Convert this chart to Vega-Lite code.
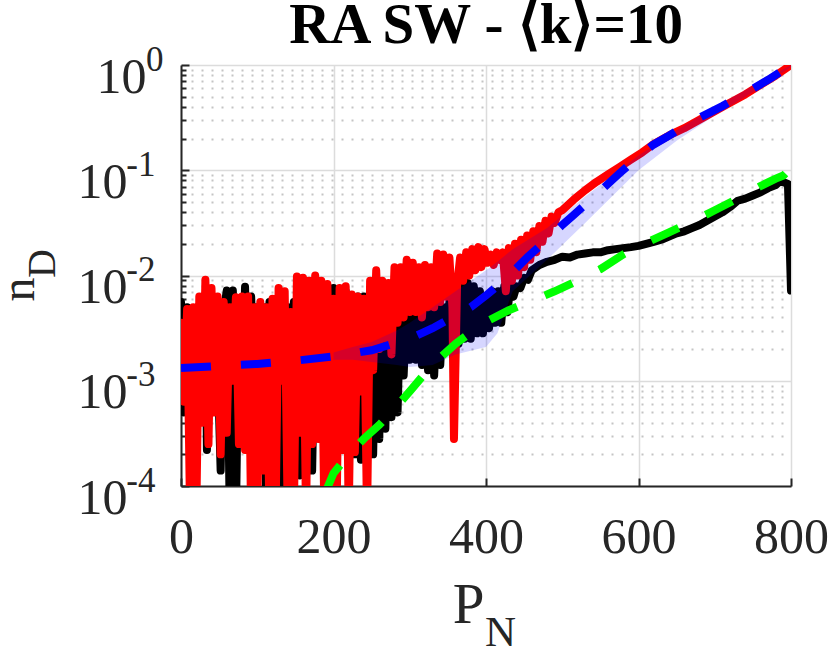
{
  "$schema": "https://vega.github.io/schema/vega-lite/v6.json",
  "background": "white",
  "autosize": {"type": "none"},
  "padding": {"left": 181, "top": 65, "right": 39, "bottom": 168},
  "width": 610,
  "height": 421,
  "title": {
    "text": "RA SW - ⟨k⟩=10",
    "font": "Liberation Serif",
    "fontSize": 57,
    "fontWeight": "bold",
    "color": "#000000",
    "anchor": "middle",
    "frame": "group",
    "offset": 6,
    "dy": 19
  },
  "datasets": {
    "black": [
      {"p": 0, "v": 0.0056}, {"p": 4, "v": 0.0005}, {"p": 8, "v": 0.005}, {"p": 12, "v": 0.001},
      {"p": 16, "v": 0.0045}, {"p": 20, "v": 0.00063}, {"p": 24, "v": 0.005}, {"p": 28, "v": 0.00079},
      {"p": 32, "v": 0.0056}, {"p": 34, "v": 0.00022}, {"p": 38, "v": 0.005}, {"p": 42, "v": 0.00063},
      {"p": 46, "v": 0.005}, {"p": 52, "v": 0.00014}, {"p": 56, "v": 0.0045}, {"p": 60, "v": 0.0072},
      {"p": 64, "v": 0.00005}, {"p": 68, "v": 0.0072}, {"p": 72, "v": 0.00005}, {"p": 76, "v": 0.005},
      {"p": 80, "v": 0.0005}, {"p": 84, "v": 0.0078}, {"p": 88, "v": 0.0004}, {"p": 92, "v": 0.0063},
      {"p": 96, "v": 0.001}, {"p": 100, "v": 0.005}, {"p": 104, "v": 0.0005}, {"p": 108, "v": 0.005},
      {"p": 112, "v": 0.00005}, {"p": 116, "v": 0.0056}, {"p": 120, "v": 0.00063}, {"p": 124, "v": 0.005},
      {"p": 128, "v": 0.00005}, {"p": 132, "v": 0.0063}, {"p": 136, "v": 0.00005}, {"p": 140, "v": 0.005},
      {"p": 144, "v": 0.00063}, {"p": 148, "v": 0.0056}, {"p": 152, "v": 0.0005}, {"p": 156, "v": 0.000126},
      {"p": 160, "v": 0.0063}, {"p": 164, "v": 0.00079}, {"p": 168, "v": 0.0063}, {"p": 172, "v": 0.00014},
      {"p": 176, "v": 0.0056}, {"p": 180, "v": 0.0005}, {"p": 184, "v": 0.0063}, {"p": 188, "v": 0.0005},
      {"p": 192, "v": 0.0063}, {"p": 196, "v": 0.00063}, {"p": 200, "v": 0.0076}, {"p": 204, "v": 0.0004},
      {"p": 208, "v": 0.0074}, {"p": 212, "v": 0.00063}, {"p": 216, "v": 0.0071}, {"p": 220, "v": 0.0005},
      {"p": 224, "v": 0.0063}, {"p": 228, "v": 0.0002}, {"p": 232, "v": 0.0063}, {"p": 236, "v": 0.000178},
      {"p": 240, "v": 0.0063}, {"p": 244, "v": 0.000178}, {"p": 248, "v": 0.0056}, {"p": 252, "v": 0.0002},
      {"p": 256, "v": 0.0063}, {"p": 260, "v": 0.00028}, {"p": 264, "v": 0.0063}, {"p": 268, "v": 0.00035},
      {"p": 272, "v": 0.006}, {"p": 276, "v": 0.00045}, {"p": 280, "v": 0.0063}, {"p": 284, "v": 0.0005},
      {"p": 288, "v": 0.006}, {"p": 292, "v": 0.00112}, {"p": 296, "v": 0.006}, {"p": 300, "v": 0.00158},
      {"p": 304, "v": 0.006}, {"p": 308, "v": 0.00158}, {"p": 312, "v": 0.005}, {"p": 316, "v": 0.00141},
      {"p": 320, "v": 0.005}, {"p": 324, "v": 0.00126}, {"p": 328, "v": 0.005}, {"p": 332, "v": 0.00112},
      {"p": 336, "v": 0.005}, {"p": 340, "v": 0.00141}, {"p": 344, "v": 0.005}, {"p": 348, "v": 0.00224},
      {"p": 352, "v": 0.0056}, {"p": 356, "v": 0.002}, {"p": 360, "v": 0.0063}, {"p": 364, "v": 0.00224},
      {"p": 368, "v": 0.0085}, {"p": 372, "v": 0.0025}, {"p": 376, "v": 0.0085}, {"p": 380, "v": 0.0025},
      {"p": 384, "v": 0.0079}, {"p": 388, "v": 0.00282}, {"p": 392, "v": 0.0071}, {"p": 396, "v": 0.00282},
      {"p": 400, "v": 0.0063}, {"p": 404, "v": 0.00316}, {"p": 408, "v": 0.0071}, {"p": 412, "v": 0.00355},
      {"p": 416, "v": 0.0071}, {"p": 420, "v": 0.00355}, {"p": 424, "v": 0.0079}, {"p": 428, "v": 0.00447},
      {"p": 432, "v": 0.0079}, {"p": 436, "v": 0.0063}, {"p": 440, "v": 0.0079}, {"p": 445, "v": 0.0076},
      {"p": 450, "v": 0.0095}, {"p": 455, "v": 0.0091}, {"p": 460, "v": 0.0112}, {"p": 470, "v": 0.0126},
      {"p": 480, "v": 0.0135}, {"p": 490, "v": 0.0141}, {"p": 500, "v": 0.0151}, {"p": 510, "v": 0.0148},
      {"p": 520, "v": 0.0158}, {"p": 530, "v": 0.0162}, {"p": 540, "v": 0.0166}, {"p": 550, "v": 0.0166},
      {"p": 560, "v": 0.0174}, {"p": 570, "v": 0.0178}, {"p": 580, "v": 0.0182}, {"p": 590, "v": 0.0186},
      {"p": 600, "v": 0.0191}, {"p": 610, "v": 0.02}, {"p": 620, "v": 0.0209}, {"p": 630, "v": 0.0219},
      {"p": 640, "v": 0.0234}, {"p": 650, "v": 0.0251}, {"p": 660, "v": 0.0263}, {"p": 670, "v": 0.0282},
      {"p": 680, "v": 0.0302}, {"p": 690, "v": 0.0331}, {"p": 700, "v": 0.0363}, {"p": 710, "v": 0.0398},
      {"p": 720, "v": 0.0447}, {"p": 730, "v": 0.0513}, {"p": 740, "v": 0.0537}, {"p": 750, "v": 0.0575},
      {"p": 760, "v": 0.0617}, {"p": 770, "v": 0.0676}, {"p": 780, "v": 0.0724}, {"p": 786, "v": 0.0794},
      {"p": 792, "v": 0.0759}, {"p": 796, "v": 0.074}, {"p": 800, "v": 0.0072}
    ],
    "red": [
      {"p": 0, "v": 0.00355}, {"p": 4, "v": 0.00063}, {"p": 8, "v": 0.0048}, {"p": 12, "v": 0.00005},
      {"p": 16, "v": 0.005}, {"p": 20, "v": 0.00005}, {"p": 24, "v": 0.0063}, {"p": 28, "v": 0.0004},
      {"p": 32, "v": 0.0091}, {"p": 36, "v": 0.00025}, {"p": 40, "v": 0.0076}, {"p": 44, "v": 0.0005},
      {"p": 48, "v": 0.0063}, {"p": 52, "v": 0.0002}, {"p": 56, "v": 0.0056}, {"p": 60, "v": 0.00032},
      {"p": 64, "v": 0.005}, {"p": 68, "v": 0.001}, {"p": 72, "v": 0.0062}, {"p": 76, "v": 0.00025},
      {"p": 80, "v": 0.0063}, {"p": 84, "v": 0.00022}, {"p": 88, "v": 0.0063}, {"p": 92, "v": 0.00005},
      {"p": 96, "v": 0.005}, {"p": 100, "v": 0.00005}, {"p": 104, "v": 0.0056}, {"p": 108, "v": 0.00014},
      {"p": 112, "v": 0.005}, {"p": 116, "v": 0.00005}, {"p": 120, "v": 0.006}, {"p": 124, "v": 0.00005},
      {"p": 128, "v": 0.0076}, {"p": 132, "v": 0.001}, {"p": 136, "v": 0.0071}, {"p": 140, "v": 0.00005},
      {"p": 144, "v": 0.0045}, {"p": 148, "v": 0.00005}, {"p": 152, "v": 0.0098}, {"p": 156, "v": 0.00032},
      {"p": 160, "v": 0.0095}, {"p": 164, "v": 0.00005}, {"p": 168, "v": 0.0089}, {"p": 172, "v": 0.00025},
      {"p": 176, "v": 0.01}, {"p": 180, "v": 0.00028}, {"p": 184, "v": 0.0089}, {"p": 188, "v": 0.00005},
      {"p": 192, "v": 0.0083}, {"p": 196, "v": 0.000126}, {"p": 200, "v": 0.006}, {"p": 204, "v": 0.00005},
      {"p": 208, "v": 0.0076}, {"p": 212, "v": 0.00022}, {"p": 216, "v": 0.0079}, {"p": 220, "v": 0.00005},
      {"p": 224, "v": 0.0066}, {"p": 228, "v": 0.00021}, {"p": 232, "v": 0.0063}, {"p": 236, "v": 0.00079},
      {"p": 240, "v": 0.006}, {"p": 244, "v": 0.00005}, {"p": 248, "v": 0.0089}, {"p": 252, "v": 0.00126},
      {"p": 256, "v": 0.0112}, {"p": 260, "v": 0.002}, {"p": 264, "v": 0.0089}, {"p": 268, "v": 0.0025},
      {"p": 272, "v": 0.0085}, {"p": 276, "v": 0.00178}, {"p": 280, "v": 0.012}, {"p": 284, "v": 0.00355},
      {"p": 288, "v": 0.012}, {"p": 292, "v": 0.004}, {"p": 296, "v": 0.0141}, {"p": 300, "v": 0.0045},
      {"p": 304, "v": 0.0132}, {"p": 308, "v": 0.0045}, {"p": 312, "v": 0.012}, {"p": 316, "v": 0.004},
      {"p": 320, "v": 0.0126}, {"p": 324, "v": 0.005}, {"p": 328, "v": 0.012}, {"p": 332, "v": 0.005},
      {"p": 336, "v": 0.0162}, {"p": 340, "v": 0.0056}, {"p": 344, "v": 0.0158}, {"p": 348, "v": 0.0063},
      {"p": 352, "v": 0.0148}, {"p": 356, "v": 0.005}, {"p": 358, "v": 0.00028}, {"p": 362, "v": 0.0079},
      {"p": 366, "v": 0.0148}, {"p": 370, "v": 0.0089}, {"p": 374, "v": 0.0166}, {"p": 378, "v": 0.01},
      {"p": 382, "v": 0.0178}, {"p": 386, "v": 0.0112}, {"p": 390, "v": 0.0186}, {"p": 394, "v": 0.012},
      {"p": 398, "v": 0.0178}, {"p": 402, "v": 0.0132}, {"p": 406, "v": 0.0158}, {"p": 410, "v": 0.0126},
      {"p": 414, "v": 0.0166}, {"p": 418, "v": 0.0141}, {"p": 422, "v": 0.0166}, {"p": 426, "v": 0.0071},
      {"p": 430, "v": 0.0182}, {"p": 434, "v": 0.0089}, {"p": 438, "v": 0.02}, {"p": 442, "v": 0.01},
      {"p": 446, "v": 0.0219}, {"p": 450, "v": 0.012}, {"p": 454, "v": 0.024}, {"p": 458, "v": 0.0141},
      {"p": 462, "v": 0.0263}, {"p": 466, "v": 0.0166}, {"p": 470, "v": 0.0295}, {"p": 474, "v": 0.0209},
      {"p": 478, "v": 0.0331}, {"p": 482, "v": 0.0251}, {"p": 486, "v": 0.0363}, {"p": 490, "v": 0.0316},
      {"p": 495, "v": 0.0398}, {"p": 500, "v": 0.0417}, {"p": 515, "v": 0.0525},
      {"p": 530, "v": 0.0646}, {"p": 545, "v": 0.0776}, {"p": 560, "v": 0.0912}, {"p": 575, "v": 0.107},
      {"p": 590, "v": 0.126}, {"p": 605, "v": 0.148}, {"p": 620, "v": 0.178}, {"p": 640, "v": 0.214},
      {"p": 660, "v": 0.251}, {"p": 680, "v": 0.302}, {"p": 700, "v": 0.363}, {"p": 720, "v": 0.437},
      {"p": 740, "v": 0.525}, {"p": 760, "v": 0.646}, {"p": 780, "v": 0.794}, {"p": 800, "v": 1.0}
    ],
    "blue": [
      {"p": 0, "v": 0.00132}, {"p": 50, "v": 0.00138}, {"p": 100, "v": 0.001445}, {"p": 150, "v": 0.00155},
      {"p": 200, "v": 0.0017}, {"p": 250, "v": 0.00195}, {"p": 300, "v": 0.00251}, {"p": 330, "v": 0.00316},
      {"p": 350, "v": 0.0038}, {"p": 380, "v": 0.00501}, {"p": 400, "v": 0.00646}, {"p": 425, "v": 0.00912},
      {"p": 455, "v": 0.0151}, {"p": 480, "v": 0.0219}, {"p": 500, "v": 0.0302}, {"p": 515, "v": 0.0376},
      {"p": 545, "v": 0.0589}, {"p": 575, "v": 0.0933}, {"p": 600, "v": 0.135}, {"p": 619, "v": 0.174},
      {"p": 638, "v": 0.209}, {"p": 660, "v": 0.263}, {"p": 680, "v": 0.316}, {"p": 710, "v": 0.407},
      {"p": 740, "v": 0.537}, {"p": 770, "v": 0.724}, {"p": 800, "v": 1.0}
    ],
    "green": [
      {"p": 190, "v": 0.000089}, {"p": 200, "v": 0.000132}, {"p": 220, "v": 0.0002}, {"p": 240, "v": 0.000282},
      {"p": 260, "v": 0.00038}, {"p": 280, "v": 0.000537}, {"p": 300, "v": 0.000794}, {"p": 320, "v": 0.001175},
      {"p": 340, "v": 0.00166}, {"p": 360, "v": 0.00224}, {"p": 380, "v": 0.00288}, {"p": 400, "v": 0.00363},
      {"p": 430, "v": 0.00468}, {"p": 460, "v": 0.00575}, {"p": 490, "v": 0.00708}, {"p": 520, "v": 0.00891},
      {"p": 550, "v": 0.01148}, {"p": 580, "v": 0.01585}, {"p": 610, "v": 0.0204}, {"p": 640, "v": 0.0257},
      {"p": 670, "v": 0.0324}, {"p": 700, "v": 0.0417}, {"p": 730, "v": 0.0537}, {"p": 760, "v": 0.0708},
      {"p": 780, "v": 0.0832}, {"p": 790, "v": 0.0891}, {"p": 800, "v": 0.105}
    ],
    "band": [
      {"p": 200, "lo": 0.00158, "hi": 0.00186}, {"p": 225, "lo": 0.00158, "hi": 0.00209},
      {"p": 250, "lo": 0.00151, "hi": 0.00234}, {"p": 283, "lo": 0.00141, "hi": 0.003},
      {"p": 300, "lo": 0.00135, "hi": 0.00355}, {"p": 330, "lo": 0.00141, "hi": 0.005},
      {"p": 360, "lo": 0.00178, "hi": 0.0071}, {"p": 400, "lo": 0.00209, "hi": 0.0112},
      {"p": 415, "lo": 0.00282, "hi": 0.0135}, {"p": 435, "lo": 0.0071, "hi": 0.0178},
      {"p": 480, "lo": 0.0141, "hi": 0.0282}, {"p": 530, "lo": 0.0316, "hi": 0.0562},
      {"p": 600, "lo": 0.1, "hi": 0.138}, {"p": 650, "lo": 0.191, "hi": 0.24},
      {"p": 700, "lo": 0.331, "hi": 0.398}, {"p": 750, "lo": 0.55, "hi": 0.631},
      {"p": 800, "lo": 0.955, "hi": 1.0}
    ]
  },
  "layer": [
    {
      "data": {"name": "black"},
      "mark": {"type": "line", "color": "#000000", "strokeWidth": 8, "strokeCap": "round", "strokeJoin": "round", "clip": true},
      "encoding": {
        "x": {
          "field": "p", "type": "quantitative",
          "scale": {"domain": [0, 800], "nice": false, "zero": false},
          "axis": {
            "orient": "bottom", "values": [0, 200, 400, 600, 800], "ticks": false,
            "grid": true, "gridColor": "#dcdcdc", "gridWidth": 1.5,
            "domain": true, "domainWidth": 2,
            "labelFontSize": 50, "labelPadding": 26, "labelFlush": false, "labelOverlap": false,
            "title": "P", "titleFontSize": 57, "titleX": 287, "titleY": 136,
            "titleBaseline": "alphabetic", "titleAlign": "center"
          }
        },
        "y": {
          "field": "v", "type": "quantitative",
          "scale": {"type": "log", "domain": [0.0001, 1], "nice": false},
          "axis": {
            "orient": "left", "values": [0.0001, 0.001, 0.01, 0.1, 1], "ticks": false,
            "grid": true, "gridColor": "#dcdcdc", "gridWidth": 1.5,
            "domain": true, "domainWidth": 2,
            "labelExpr": "'10'", "labelFontSize": 50, "labelBaseline": "alphabetic", "labelOffset": 27,
            "labelPadding": {"condition": {"test": "datum.value > 0.5", "value": 35}, "value": 54},
            "labelFlush": false, "labelOverlap": false,
            "title": "n", "titleFontSize": 48, "titleAngle": -90, "titleX": -148, "titleY": 224,
            "titleBaseline": "alphabetic", "titleAlign": "center"
          }
        }
      }
    },
    {
      "data": {"name": "red"},
      "mark": {"type": "line", "color": "#ff0000", "strokeWidth": 8, "strokeCap": "round", "strokeJoin": "round", "clip": true},
      "encoding": {
        "x": {"field": "p", "type": "quantitative", "axis": null},
        "y": {
          "field": "v", "type": "quantitative",
          "axis": {
            "orient": "left",
            "values": [0.0002, 0.0003, 0.0004, 0.0005, 0.0006, 0.0007, 0.0008, 0.0009,
                       0.002, 0.003, 0.004, 0.005, 0.006, 0.007, 0.008, 0.009,
                       0.02, 0.03, 0.04, 0.05, 0.06, 0.07, 0.08, 0.09,
                       0.2, 0.3, 0.4, 0.5, 0.6, 0.7, 0.8, 0.9],
            "labels": false, "domain": false, "title": null,
            "ticks": true, "tickSize": -5, "tickWidth": 2,
            "grid": true, "gridColor": "#c4c4c4", "gridDash": [2, 8], "gridWidth": 2
          }
        }
      }
    },
    {
      "data": {"name": "band"},
      "mark": {"type": "area", "color": "#0000ff", "opacity": 0.16, "clip": true},
      "encoding": {
        "x": {
          "field": "p", "type": "quantitative",
          "axis": {
            "orient": "bottom", "values": [0], "labels": false, "ticks": false, "grid": false, "domain": false,
            "title": "N", "titleFontSize": 43, "titleX": 319, "titleY": 159,
            "titleBaseline": "alphabetic", "titleAlign": "center"
          }
        },
        "y": {
          "field": "lo", "type": "quantitative",
          "axis": {
            "orient": "left", "values": [0.0001, 0.001, 0.01, 0.1, 1],
            "ticks": false, "grid": false, "domain": false,
            "labelExpr": "datum.value > 0.5 ? '0' : '-' + round(-log(datum.value) / LN10)",
            "labelFontSize": 35, "labelBaseline": "alphabetic", "labelOffset": 5,
            "labelPadding": {"condition": {"test": "datum.value > 0.5", "value": 18}, "value": 26},
            "labelFlush": false, "labelOverlap": false,
            "title": "D", "titleFontSize": 40, "titleAngle": -90, "titleX": -127, "titleY": 198,
            "titleBaseline": "alphabetic", "titleAlign": "center"
          }
        },
        "y2": {"field": "hi"}
      }
    },
    {
      "data": {"name": "green"},
      "mark": {"type": "line", "color": "#00ff00", "strokeWidth": 8, "strokeDash": [30, 30], "clip": true},
      "encoding": {
        "x": {
          "field": "p", "type": "quantitative",
          "axis": {
            "orient": "bottom", "values": [0, 200, 400, 600, 800], "labels": false, "grid": false,
            "domain": false, "title": null, "ticks": true, "tickSize": -8, "tickWidth": 2
          }
        },
        "y": {
          "field": "v", "type": "quantitative",
          "axis": {
            "orient": "left", "values": [0.0001, 0.001, 0.01, 0.1, 1], "labels": false, "grid": false,
            "domain": false, "title": null, "ticks": true, "tickSize": -8, "tickWidth": 2
          }
        }
      }
    },
    {
      "data": {"name": "blue"},
      "mark": {"type": "line", "color": "#0000ff", "strokeWidth": 8, "strokeDash": [30, 30], "clip": true},
      "encoding": {
        "x": {"field": "p", "type": "quantitative", "axis": null},
        "y": {"field": "v", "type": "quantitative", "axis": null}
      }
    }
  ],
  "resolve": {"axis": {"x": "independent", "y": "independent"}},
  "config": {
    "view": {"stroke": null},
    "axis": {
      "labelFont": "Liberation Serif",
      "titleFont": "Liberation Serif",
      "labelColor": "#262626",
      "titleColor": "#262626",
      "titleFontWeight": "normal",
      "domainColor": "#262626",
      "tickColor": "#262626"
    }
  }
}
